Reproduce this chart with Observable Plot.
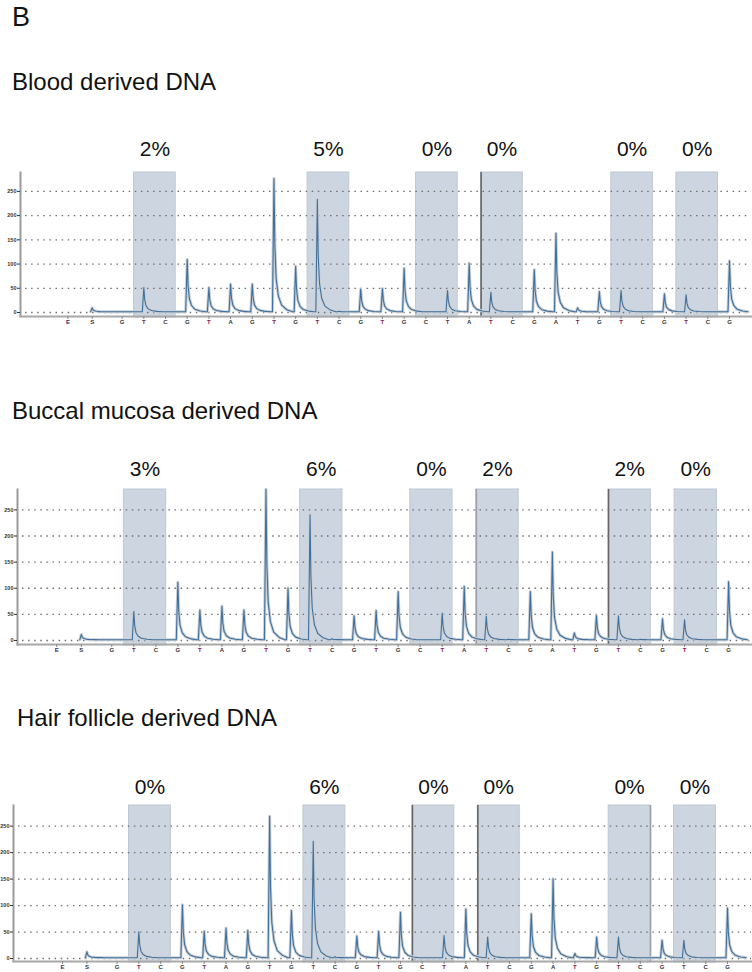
<!DOCTYPE html>
<html><head><meta charset="utf-8">
<script src="https://cdn.jsdelivr.net/npm/d3@7"></script>
<script src="https://cdn.jsdelivr.net/npm/@observablehq/plot@0.6"></script>
<style>
body{margin:0;background:#fff;font-family:"Liberation Sans",Arial,sans-serif;}
#root{position:relative;width:752px;height:972px;overflow:hidden;}
.t{position:absolute;font-size:24px;line-height:1;color:#111;white-space:nowrap;}
.p{position:absolute;left:0;}
</style></head><body><div id="root"></div>
<script>
// ---- data ----
const panelLetter = "B";
const panelTitles = ["Blood derived DNA", "Buccal mucosa derived DNA", "Hair follicle derived DNA"];
const dispensations = ["E","S","G","T","C","G","T","A","G","T","G","T","C","G","T","G","C","T","A","T","C","G","A","T","G","T","C","G","T","C","G"];
const dispTimes = [0,1.12,2.5,3.5,4.5,5.5,6.5,7.5,8.5,9.5,10.5,11.5,12.5,13.5,14.5,15.5,16.5,17.5,18.5,19.5,20.5,21.5,22.5,23.5,24.5,25.5,26.5,27.5,28.5,29.5,30.5];
const cpgFirst = [3, 11, 16, 19, 25, 28];
const cpgSecond = [4, 12, 17, 20, 26, 29];
const yTicks = [0, 50, 100, 150, 200, 250];
const bloodPeaks  = [0,8,0,50,0,108,50,57,57,275,94,232,1,47,48,90,0,44,100,40,0,87,162,8,42,44,0,37,35,0,105];
const buccalPeaks = [0,10,0,54,0,110,57,64,57,288,99,239,2,46,56,92,0,51,102,45,1,92,168,13,46,46,1,40,38,0,111];
const hairPeaks   = [0,11,0,49,0,100,50,56,52,267,89,220,2,41,50,86,0,42,92,39,0,83,149,8,39,39,0,33,33,0,94];
const bloodMeth  = ["2%","5%","0%","0%","0%","0%"];
const buccalMeth = ["3%","6%","0%","2%","2%","0%"];
const hairMeth   = ["0%","6%","0%","0%","0%","0%"];
// boxes drawn with a dark edge line in each pyrogram
const bloodEdges  = [{site:3, side:"left", tone:"dark"}];
const buccalEdges = [{site:3, side:"left", tone:"light"}, {site:4, side:"left", tone:"dark"}];
const hairEdges   = [{site:2, side:"left", tone:"dark"}, {site:3, side:"left", tone:"dark"}, {site:4, side:"right", tone:"light"}];

// ---- layout / style ----
const panels = [
  {title: panelTitles[0], peaks: bloodPeaks, meth: bloodMeth, edges: bloodEdges,
   titleTop: 70, titleLeft: 12, top: 130, height: 200, mt: 42, mb: 14, ml: 20, xr: [67.4, 729], yr: [182, 42], pctDy: -17},
  {title: panelTitles[1], peaks: buccalPeaks, meth: buccalMeth, edges: buccalEdges,
   titleTop: 398.5, titleLeft: 12, top: 450, height: 210, mt: 39, mb: 16, ml: 17, xr: [56.2, 728.1], yr: [190, 39], pctDy: -14},
  {title: panelTitles[2], peaks: hairPeaks, meth: hairMeth, edges: hairEdges,
   titleTop: 705.5, titleLeft: 17, top: 770, height: 202, mt: 35, mb: 11, ml: 13, xr: [62, 727], yr: [188, 35], pctDy: -11.5}
];
const peakShape = [[-0.07,0],[0,1],[0.04,0.5],[0.1,0.25],[0.2,0.12],[0.35,0.05],[0.6,0.015],[0.85,0]];
const baseLevel = 1.5;
const letterColor = {T: "#7d2050", E: "#3b2a6a"};
const edgeColor = {dark: "#666666", light: "#9aa1a8"};

const root = document.getElementById("root");
const letter = document.createElement("div");
letter.className = "t"; letter.style.fontSize = "27px"; letter.style.left = "12px"; letter.style.top = "4.4px";
letter.textContent = panelLetter; root.appendChild(letter);

const sites = cpgFirst.map((a, i) => ({a, b: cpgSecond[i], i}));
const labels = dispensations.map((b, i) => ({b, t: dispTimes[i]}));

for (const P of panels) {
  const tt = document.createElement("div");
  tt.className = "t"; tt.style.left = P.titleLeft + "px"; tt.style.top = P.titleTop + "px";
  tt.textContent = P.title; root.appendChild(tt);

  const trace = [];
  for (let i = 1; i < P.peaks.length; i++) {
    for (const [dx, f] of peakShape) trace.push({t: dispTimes[i] + dx, v: baseLevel + P.peaks[i] * f});
  }
  const siteRows = sites.map(s => ({...s, pct: P.meth[s.i]}));
  const edgeRows = P.edges.map(e => ({
    x: e.side === "left" ? dispTimes[cpgFirst[e.site]] - 0.45 : dispTimes[cpgSecond[e.site]] + 0.47,
    c: edgeColor[e.tone]
  }));

  const chart = Plot.plot({
    width: 752, height: P.height,
    marginTop: P.mt, marginBottom: P.mb, marginLeft: P.ml, marginRight: 1,
    x: {domain: [0, 30.5], range: P.xr, axis: null},
    y: {domain: [0, 289], range: P.yr, axis: null},
    style: {fontFamily: "'Liberation Sans', Arial, sans-serif", overflow: "visible", background: "transparent"},
    marks: [
      Plot.rect(siteRows, {x1: d => dispTimes[d.a] - 0.45, x2: d => dispTimes[d.b] + 0.47, fill: "#cdd6e0", stroke: "#bec8d3", strokeWidth: 1, insetBottom: -1}),
      Plot.ruleX(edgeRows, {x: "x", stroke: d => d.c, strokeWidth: 1.6}),
      Plot.gridY(yTicks, {stroke: "#6e6e6e", strokeOpacity: 1, strokeDasharray: "1.5 4.6", strokeWidth: 1.3, insetLeft: 5}),
      Plot.frame({anchor: "left", stroke: "#9a9a9a", strokeWidth: 2}),
      Plot.frame({anchor: "bottom", stroke: "#a8a8a8", strokeWidth: 2}),
      Plot.axisY(yTicks, {tickSize: 3, tickPadding: 1, fontSize: 5.5, fontWeight: "bold", color: "#333", label: null}),
      Plot.axisX(dispTimes, {tickSize: 3, tickFormat: () => "", color: "#888", label: null}),
      Plot.line(trace, {x: "t", y: "v", stroke: "#c9cfd6", strokeWidth: 3, strokeLinejoin: "round"}),
      Plot.line(trace, {x: "t", y: "v", stroke: "#40709b", strokeWidth: 1.1, strokeLinejoin: "round"}),
      Plot.text(labels, {x: "t", text: "b", frameAnchor: "bottom", lineAnchor: "top", dy: 3, fontSize: 6, fontWeight: "bold",
        fill: d => letterColor[d.b] || "#333"}),
      Plot.text(siteRows, {x: d => (dispTimes[d.a] + dispTimes[d.b]) / 2 + 0.01, text: "pct", frameAnchor: "top", lineAnchor: "bottom",
        dy: P.pctDy, fontSize: 21, fill: "#111"})
    ]
  });
  chart.classList.add("p");
  chart.style.top = P.top + "px";
  root.appendChild(chart);
}
</script></body></html>
